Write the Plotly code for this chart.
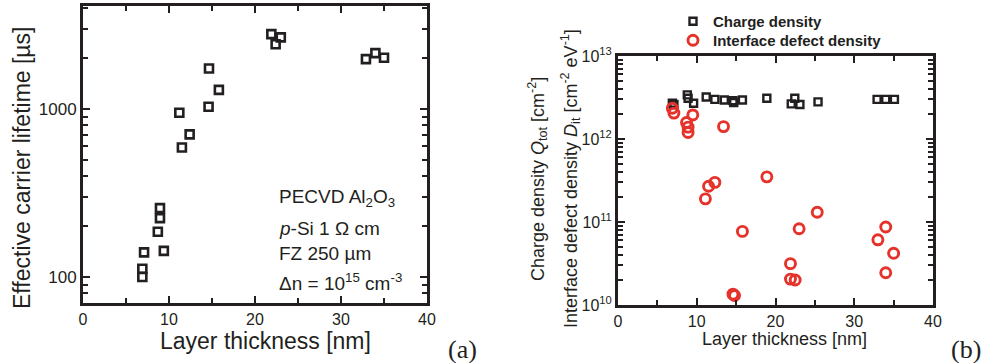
import plotly.graph_objects as go

# ---------------- data ----------------
# panel (a): effective carrier lifetime vs layer thickness
thickness_a = [6.9, 6.9, 7.1, 9.4, 8.7, 8.95, 8.95, 11.2, 11.5, 12.4, 14.6, 14.65, 15.8,
               21.9, 23.0, 22.4, 32.9, 34.0, 35.0]
lifetime_a = [100, 112, 140, 143, 186, 224, 257, 950, 590, 706, 1030, 1740, 1300,
              2790, 2670, 2430, 1980, 2150, 2020]

# panel (b): charge density
thickness_q = [6.9, 7.1, 8.8, 8.9, 9.6, 11.2, 12.3, 13.5, 14.6, 14.7, 15.8, 18.9,
               22.0, 22.45, 23.1, 25.4, 32.9, 34.0, 35.1]
charge_q = [2.7e12, 2.6e12, 3.4e12, 3.1e12, 2.7e12, 3.2e12, 3.0e12, 2.95e12, 2.9e12,
            2.75e12, 2.95e12, 3.1e12, 2.65e12, 3.1e12, 2.6e12, 2.8e12, 3.0e12, 3.0e12, 3.0e12]

# panel (b): interface defect density
thickness_d = [6.9, 7.1, 8.7, 8.9, 8.9, 9.5, 13.4, 11.1, 11.5, 12.3, 18.9, 15.8, 14.6, 14.8,
               21.9, 21.9, 22.5, 23.0, 25.3, 33.0, 34.0, 35.0, 34.0]
dit_d = [2.35e12, 2.05e12, 1.58e12, 1.39e12, 1.2e12, 1.95e12, 1.41e12, 1.9e11, 2.7e11, 3.0e11,
         3.5e11, 7.7e10, 1.35e10, 1.3e10, 3.15e10, 2.05e10, 2.0e10, 8.3e10, 1.31e11,
         6.1e10, 8.7e10, 4.2e10, 2.45e10]

x_ticks = [0, 10, 20, 30, 40]
a_yticks = [100, 1000]
a_yticklabels = ["100", "1000"]
b_yticks = [1e10, 1e11, 1e12, 1e13]
b_yticklabels = ["10<sup>10</sup>", "10<sup>11</sup>", "10<sup>12</sup>", "10<sup>13</sup>"]

# ---------------- styling ----------------
W, H = 986, 363
FONT = "Liberation Sans"
SERIF = "Liberation Serif"
BLACK = "#231f20"
RED = "#e5322a"

a_minor = [m * 10 ** e for e in (1, 2, 3) for m in range(2, 10)]
b_minor = [m * 10.0 ** e for e in (10, 11, 12) for m in range(2, 10)]


def px_x(v):
    return v / W


def px_y(v):
    return 1 - v / H


fig = go.Figure()

fig.add_trace(go.Scatter(
    x=thickness_a, y=lifetime_a, mode="markers", showlegend=False,
    marker=dict(symbol="square-open", size=8, color=BLACK, line=dict(width=2.6, color=BLACK)),
    xaxis="x", yaxis="y"))

fig.add_trace(go.Scatter(
    x=thickness_q, y=charge_q, mode="markers", name="Charge density", legend="legend",
    marker=dict(symbol="square-open", size=7, color=BLACK, line=dict(width=2.4, color=BLACK)),
    xaxis="x2", yaxis="y2"))

fig.add_trace(go.Scatter(
    x=thickness_d, y=dit_d, mode="markers", name="Interface defect density", legend="legend2",
    marker=dict(symbol="circle-open", size=10, color=RED, line=dict(width=2.9, color=RED)),
    xaxis="x2", yaxis="y2"))

axis_common = dict(
    showline=True, linecolor=BLACK, linewidth=3, mirror="ticks",
    ticks="inside", ticklen=7, tickwidth=2, tickcolor=BLACK,
    showgrid=False, zeroline=False, automargin=False,
)
minor_common = dict(ticks="inside", ticklen=5, tickwidth=1.6, tickcolor=BLACK, showgrid=False)

legend_common = dict(
    xanchor="left", yanchor="top",
    font=dict(family=FONT, size=15, color=BLACK, weight="bold"),
    bgcolor="rgba(0,0,0,0)", borderwidth=0, itemwidth=30,
)

fig.update_layout(
    width=W, height=H, autosize=False,
    margin=dict(l=0, r=0, t=0, b=0),
    paper_bgcolor="white", plot_bgcolor="white",
    font=dict(family=FONT, color=BLACK),
    xaxis=dict(
        domain=[px_x(83), px_x(427)], anchor="y", range=[0, 40],
        tickvals=x_ticks, tickfont=dict(size=16, color=BLACK),
        minor=dict(dtick=5, **minor_common),
        **axis_common),
    yaxis=dict(
        domain=[px_y(303), px_y(6)], anchor="x", type="log", range=[1.845, 3.613],
        tickmode="array", tickvals=a_yticks, ticktext=a_yticklabels,
        tickfont=dict(size=17, color=BLACK),
        minor=dict(tickmode="array", tickvals=a_minor, **minor_common),
        **axis_common),
    xaxis2=dict(
        domain=[px_x(618), px_x(933)], anchor="y2", range=[0, 40],
        tickvals=x_ticks, tickfont=dict(size=16, color=BLACK),
        minor=dict(dtick=5, **minor_common),
        **axis_common),
    yaxis2=dict(
        domain=[px_y(305), px_y(56)], anchor="x2", type="log", range=[10, 13],
        tickmode="array", tickvals=b_yticks, ticktext=b_yticklabels,
        tickfont=dict(size=16, color=BLACK),
        minor=dict(tickmode="array", tickvals=b_minor, **minor_common),
        **axis_common),
    legend=dict(x=px_x(673), y=px_y(5), **legend_common),
    legend2=dict(x=px_x(673), y=px_y(24), **legend_common),
)

ann = []


def add_text(text, x, y, size, angle=0, xanchor="center", family=FONT):
    ann.append(dict(text=text, x=px_x(x), y=px_y(y), xref="paper", yref="paper",
                    showarrow=False, textangle=angle, xanchor=xanchor, yanchor="middle",
                    font=dict(family=family, size=size, color=BLACK)))


# panel (a) titles
add_text("Layer thickness [nm]", 265, 341, 23)
add_text("Effective carrier lifetime [µs]", 22, 168, 23, angle=-90)
# panel (a) inset text
add_text("PECVD Al<sub>2</sub>O<sub>3</sub>", 277, 198, 19, xanchor="left")
add_text("<i>p</i>-Si 1 Ω cm", 277, 228, 19, xanchor="left")
add_text("FZ 250 µm", 277, 253, 19, xanchor="left")
add_text("Δn = 10<sup>15</sup> cm<sup>-3</sup>", 277, 282, 19, xanchor="left")
add_text("(a)", 462, 349, 26, family=SERIF)

# panel (b) titles
add_text("Layer thickness [nm]", 784, 339, 18)
add_text("Charge density <i>Q</i><sub>tot</sub> [cm<sup>-2</sup>]", 537, 179, 18, angle=-90)
add_text("Interface defect density <i>D</i><sub>it</sub> [cm<sup>-2</sup> eV<sup>-1</sup>]",
         570, 179, 18, angle=-90)
add_text("(b)", 966, 349, 26, family=SERIF)

fig.update_layout(annotations=ann)

fig.write_html(
    "out.html",
    config={"displayModeBar": False},
    post_script="document.body.style.margin='0';document.body.style.overflow='hidden';",
)
